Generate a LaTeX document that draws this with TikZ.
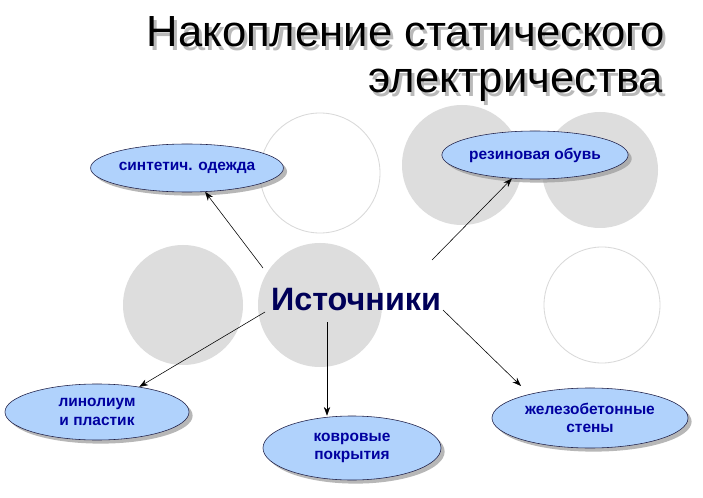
\documentclass[tikz,border=0pt]{standalone}
\usepackage{fontspec}
\setmainfont{Liberation Sans}
\usetikzlibrary{shapes.geometric,arrows.meta,shadows}
\definecolor{bubble}{RGB}{176,210,252}
\definecolor{ink}{RGB}{0,0,160}
\definecolor{rim}{RGB}{30,30,70}
\newcommand\castshadow[1]{\rlap{\hspace{2.2pt}\raisebox{-2.2pt}{\textcolor{gray!55}{#1}}}#1}
\begin{document}
\begin{tikzpicture}[x=0.025cm,y=-0.025cm,
    disc/.style={fill=gray!27},
    ring/.style={draw=gray!30,line width=0.6pt,fill=white},
    heading/.style={anchor=base east,font=\fontsize{31}{38}\selectfont},
    source/.style={ellipse,draw=rim,fill=bubble,inner sep=0pt,align=center,
      font=\fontsize{11}{13}\selectfont\bfseries,text=ink,
      drop shadow={shadow xshift=0.9mm,shadow yshift=-0.9mm,fill=gray!80,opacity=0.7}},
    link/.style={-{Stealth[length=2.2mm,width=1.6mm]},thin}]
    \useasboundingbox[fill=white] (0,0) rectangle (703,498);
    \draw[ring] (320,173) circle (60);
    \fill[disc] (462,165) circle (60);
    \fill[disc] (600,170) circle (58);
    \fill[disc] (183,305) circle (60);
    \fill[disc] (320,305) circle (62);
    \draw[ring] (602,305) circle (58);
    \node (title1) [heading] at (670,47) {\castshadow{Накопление статического}};
    \node (title2) [heading] at (668,93) {\castshadow{электричества}};
    \node (src) [font=\fontsize{23}{28}\selectfont\bfseries,text=ink!55!black] at (356,300) {Источники};
    \node (odezhda) [source,minimum width=4.5cm,minimum height=1.2cm] at (187,168) {синтетич. одежда};
    \node (obuv) [source,minimum width=4.5cm,minimum height=1.2cm] at (535,155) {резиновая обувь};
    \node (linoleum) [source,minimum width=4.6cm,minimum height=1.4cm] at (97,412) {линолиум\\и пластик};
    \node (kovry) [source,minimum width=4.45cm,minimum height=1.6cm] at (352,448) {ковровые\\покрытия};
    \node (steny) [source,minimum width=4.9cm,minimum height=1.5cm] at (590,418) {железобетонные\\стены};
    \coordinate (s1) at (263,268);
    \coordinate (s2) at (432,260);
    \coordinate (s3) at (265,312);
    \coordinate (s4) at (327,322);
    \coordinate (s5) at (443,310);
    \coordinate (t5) at (521,386);
    \draw[link] (s1) -- (odezhda);
    \draw[link] (s2) -- (obuv);
    \draw[link] (s3) -- (linoleum);
    \draw[link] (s4) -- (s4 |- kovry.north);
    \draw[link] (s5) -- (t5);
  \end{tikzpicture}
\end{document}
